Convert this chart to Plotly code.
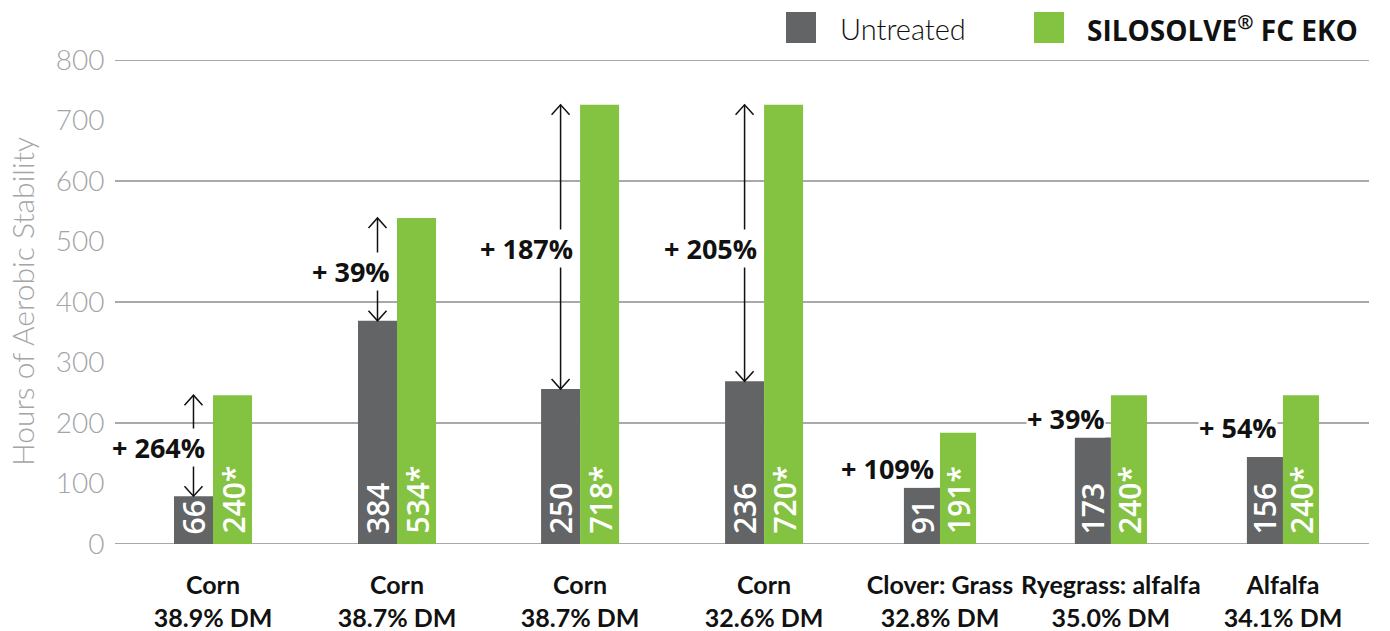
import plotly.graph_objects as go

# ---------------- data ----------------
categories = ["Corn", "Corn", "Corn", "Corn", "Clover: Grass", "Ryegrass: alfalfa", "Alfalfa"]
dry_matter = ["38.9% DM", "38.7% DM", "38.7% DM", "32.6% DM", "32.8% DM", "35.0% DM", "34.1% DM"]
untreated_hours = [79, 369, 256, 269, 93, 176, 144]      # bar heights as drawn
treated_hours = [246, 539, 726, 726, 184, 246, 246]
untreated_labels = ["66", "384", "250", "236", "91", "173", "156"]
treated_labels = ["240*", "534*", "718*", "720*", "191*", "240*", "240*"]
gain_labels = ["+ 264%", "+ 39%", "+ 187%", "+ 205%", "+ 109%", "+ 39%", "+ 54%"]
gain_arrow = [True, True, True, True, False, False, False]
y_ticks = [0, 100, 200, 300, 400, 500, 600, 700, 800]
grid_values = [0, 200, 400, 600, 800]
series_names = ["Untreated", "SILOSOLVE<sup>®</sup> FC EKO"]

# ---------------- layout / style ----------------
GROUP_X = [0, 1, 1.995, 2.995, 3.951, 4.880, 5.815]
BAR_W = [0.212, 0.212, 0.212, 0.212, 0.196, 0.196, 0.196]
X_RANGE = [-0.5326, 6.2826]
GAIN_Y = [160, 451, 489, 489, 125, 207, 193]
GREY = "#636466"
GREEN = "#84c341"
AXIS_GREY = "#a3a5a8"
GRID_GREY = "#a9a9ab"
W, H = 1390, 631
ML, MR, MT, MB = 115, 21, 60, 87
PW, PH = W - ML - MR, H - MT - MB


def px_x(p):
    return (p - ML) / PW


def px_y(p):
    return (H - MB - p) / PH


fig = go.Figure()
fig.add_trace(go.Bar(
    x=GROUP_X, y=untreated_hours, width=BAR_W, offset=[-w for w in BAR_W],
    marker=dict(color=GREY, line=dict(width=0)), name="Untreated", showlegend=False,
    hoverinfo="skip"))
fig.add_trace(go.Bar(
    x=GROUP_X, y=treated_hours, width=BAR_W, offset=[0] * len(BAR_W),
    marker=dict(color=GREEN, line=dict(width=0)), name="SILOSOLVE® FC EKO", showlegend=False,
    hoverinfo="skip"))

shapes = []
for g in grid_values:
    shapes.append(dict(type="line", xref="paper", yref="y", x0=0, x1=1, y0=g, y1=g,
                       line=dict(color=GRID_GREY, width=2), layer="below"))

annotations = []
bold = dict(family="Open Sans", size=27, color="#111111", weight=700)
for i in range(len(GROUP_X)):
    xg = GROUP_X[i] - BAR_W[i] / 2
    xt = GROUP_X[i] + BAR_W[i] / 2
    # value labels inside bars
    for xx, txt in ((xg, untreated_labels[i]), (xt, treated_labels[i])):
        annotations.append(dict(x=xx, y=0, xref="x", yref="y", text=txt, showarrow=False,
                                textangle=-90, xanchor="center", yanchor="bottom", yshift=8,
                                font=dict(family="Open Sans", size=30, color="white", weight=600)))
    # arrows
    if gain_arrow[i]:
        shapes.append(dict(type="line", xref="x", yref="y", x0=xg, x1=xg,
                           y0=untreated_hours[i], y1=treated_hours[i],
                           line=dict(color="#111111", width=1.5), layer="above"))
        shapes.append(dict(type="path", xref="x", yref="y", xsizemode="pixel", ysizemode="pixel",
                           xanchor=xg, yanchor=treated_hours[i], path="M-9,-10 L0,0 L9,-10",
                           line=dict(color="#111111", width=1.5), layer="above"))
        shapes.append(dict(type="path", xref="x", yref="y", xsizemode="pixel", ysizemode="pixel",
                           xanchor=xg, yanchor=untreated_hours[i], path="M-9,10 L0,0 L9,10",
                           line=dict(color="#111111", width=1.5), layer="above"))
    annotations.append(dict(x=xg, y=GAIN_Y[i], xref="x", yref="y", text=gain_labels[i],
                            showarrow=False, xanchor="right", yanchor="middle", xshift=13,
                            bgcolor="white", borderpad=0, font=bold))

# legend (manual)
shapes.append(dict(type="rect", xref="paper", yref="paper", x0=px_x(786), x1=px_x(816),
                   y0=px_y(43), y1=px_y(12), fillcolor=GREY, line=dict(width=0)))
shapes.append(dict(type="rect", xref="paper", yref="paper", x0=px_x(1034), x1=px_x(1064),
                   y0=px_y(43), y1=px_y(12), fillcolor=GREEN, line=dict(width=0)))
annotations.append(dict(x=px_x(838), y=px_y(28), xref="paper", yref="paper", text=series_names[0],
                        showarrow=False, xanchor="left", yanchor="middle",
                        font=dict(family="Lato", size=29, color="#111111", weight=300)))
annotations.append(dict(x=px_x(1085), y=px_y(28), xref="paper", yref="paper",
                        text="<b>" + series_names[1] + "</b>",
                        showarrow=False, xanchor="left", yanchor="middle",
                        font=dict(family="Open Sans", size=28, color="#111111", weight=700)))
# y-axis title
annotations.append(dict(x=px_x(22), y=0.5, xref="paper", yref="paper",
                        text="Hours of Aerobic Stability", showarrow=False, textangle=-90,
                        xanchor="center", yanchor="middle",
                        font=dict(family="Lato", size=30, color=AXIS_GREY, weight=300)))

fig.update_layout(
    width=W, height=H, margin=dict(l=ML, r=MR, t=MT, b=MB, pad=0, autoexpand=False),
    paper_bgcolor="white", plot_bgcolor="white", barmode="overlay",
    shapes=shapes, annotations=annotations,
    xaxis=dict(range=X_RANGE, tickvals=GROUP_X,
               ticktext=[c + "<br>" + d for c, d in zip(categories, dry_matter)],
               tickfont=dict(family="Lato", size=25, color="#111111", weight=700),
               tickangle=0, automargin=False,
               showgrid=False, zeroline=False, showline=False,
               ticks="outside", ticklen=19, tickcolor="rgba(0,0,0,0)", fixedrange=True),
    yaxis=dict(range=[0, 800], tickvals=y_ticks, showgrid=False, zeroline=False, showline=False,
               automargin=False,
               tickfont=dict(family="Lato", size=28, color=AXIS_GREY, weight=300),
               ticks="outside", ticklen=4, tickcolor="rgba(0,0,0,0)", fixedrange=True),
)

fig.write_html("out.html")
